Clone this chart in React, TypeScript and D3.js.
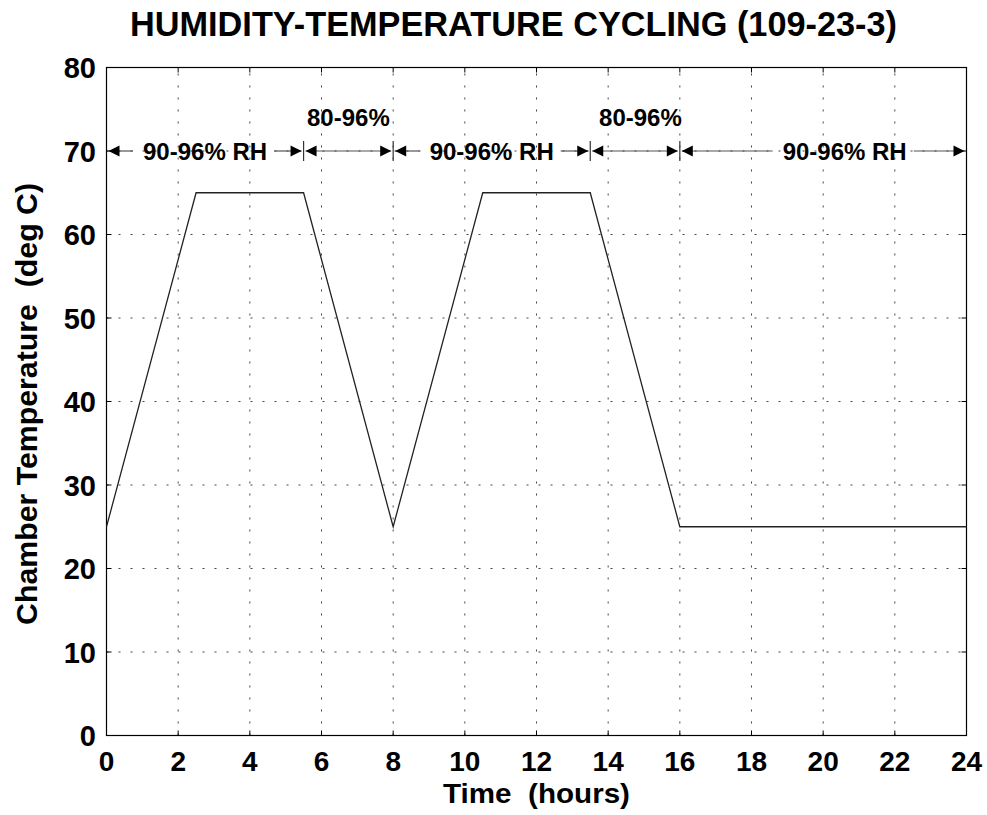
import React, { useEffect, useRef } from "react";
import * as d3 from "d3";

const timeHours = [0, 2.5, 5.5, 8, 10.5, 13.5, 16, 24];
const chamberTemp = [25, 65, 65, 25, 65, 65, 25, 25];
const xTickValues = [0, 2, 4, 6, 8, 10, 12, 14, 16, 18, 20, 22, 24];
const yTickValues = [0, 10, 20, 30, 40, 50, 60, 70, 80];

const rhStart = [0, 5.5, 8, 13.5, 16];
const rhEnd = [5.5, 8, 13.5, 16, 24];
const rhLabel = ["90-96% RH", "80-96%", "90-96% RH", "80-96%", "90-96% RH"];
const rhLabelAt = [2.75, 6.75, 10.75, 14.9, 20.6];
const rhAbove = [false, true, false, true, false];
const rhLevel = 70;

const titleText = "HUMIDITY-TEMPERATURE CYCLING (109-23-3)";
const xTitle = "Time  (hours)";
const yTitle = "Chamber Temperature  (deg C)";

export default function App() {
  const ref = useRef<SVGSVGElement>(null);
  useEffect(() => {
    const svg = d3.select(ref.current);
    svg.selectAll("*").remove();
    const L = 106.5, R = 966.5, T = 67.5, B = 735.5;
    const x = d3.scaleLinear().domain([0, 24]).range([L, R]);
    const y = d3.scaleLinear().domain([0, 80]).range([B, T]);
    const font = "'Liberation Sans', Arial, Helvetica, sans-serif";

    svg.append("rect").attr("width", 987).attr("height", 815).attr("fill", "#fff");

    // grid
    const g = svg.append("g");
    g.selectAll("line.vx").data(xTickValues.filter(v => v > 0 && v < 24)).join("line")
      .attr("x1", d => x(d)).attr("x2", d => x(d)).attr("y1", B).attr("y2", T)
      .attr("stroke", "#444").attr("stroke-width", 1).attr("stroke-dasharray", "2,10");
    g.selectAll("line.hy").data(yTickValues.filter(v => v > 0 && v < 80)).join("line")
      .attr("class", "hy")
      .attr("x1", L).attr("x2", R).attr("y1", d => y(d)).attr("y2", d => y(d))
      .attr("stroke", "#444").attr("stroke-width", 1).attr("stroke-dasharray", "2,10");

    // ticks inward
    const tk = 5;
    xTickValues.forEach(v => {
      g.append("line").attr("x1", x(v)).attr("x2", x(v)).attr("y1", B).attr("y2", B - tk).attr("stroke", "#000");
      g.append("line").attr("x1", x(v)).attr("x2", x(v)).attr("y1", T).attr("y2", T + tk).attr("stroke", "#000");
    });
    yTickValues.forEach(v => {
      g.append("line").attr("x1", L).attr("x2", L + tk).attr("y1", y(v)).attr("y2", y(v)).attr("stroke", "#000");
      g.append("line").attr("x1", R).attr("x2", R - tk).attr("y1", y(v)).attr("y2", y(v)).attr("stroke", "#000");
    });

    // frame
    svg.append("rect").attr("x", L).attr("y", T).attr("width", R - L).attr("height", B - T)
      .attr("fill", "none").attr("stroke", "#000").attr("stroke-width", 1.2);

    // data line
    const pts = timeHours.map((t, i) => [t, chamberTemp[i]] as [number, number]);
    svg.append("path").attr("d", d3.line<[number, number]>().x(d => x(d[0])).y(d => y(d[1]))(pts) as string)
      .attr("fill", "none").attr("stroke", "#222").attr("stroke-width", 1.3);

    // RH annotations
    const ay = y(rhLevel);
    const ah = svg.append("g");
    const head = (tipX: number, dir: number) => {
      ah.append("path")
        .attr("d", `M${tipX},${ay} L${tipX + dir * 11},${ay - 5.5} L${tipX + dir * 11},${ay + 5.5} Z`)
        .attr("fill", "#000");
    };
    rhStart.forEach((s, i) => {
      const x0 = x(s) + 2, x1 = x(rhEnd[i]) - 2;
      const txt = ah.append("text").attr("font-family", font).attr("font-weight", "bold")
        .attr("font-size", 24).attr("text-anchor", "middle").attr("fill", "#000")
        .attr("x", x(rhLabelAt[i]))
        .attr("y", rhAbove[i] ? ay - 25 : ay + 9)
        .text(rhLabel[i]);
      if (rhAbove[i]) {
        ah.append("line").attr("x1", x0).attr("x2", x1).attr("y1", ay).attr("y2", ay)
          .attr("stroke", "#555").attr("stroke-width", 1.2);
      } else {
        const bb = (txt.node() as SVGTextElement).getBBox();
        ah.append("line").attr("x1", x0).attr("x2", bb.x - 10).attr("y1", ay).attr("y2", ay)
          .attr("stroke", "#555").attr("stroke-width", 1.2);
        ah.append("line").attr("x1", bb.x + bb.width + 7).attr("x2", x1).attr("y1", ay).attr("y2", ay)
          .attr("stroke", "#555").attr("stroke-width", 1.2);
      }
      head(x0, 1);
      head(x1, -1);
    });
    rhStart.slice(1).forEach(s => {
      ah.append("line").attr("x1", x(s)).attr("x2", x(s)).attr("y1", ay - 10).attr("y2", ay + 10)
        .attr("stroke", "#333").attr("stroke-width", 1.2);
    });

    // tick labels
    svg.append("g").selectAll("text").data(xTickValues).join("text")
      .attr("x", d => x(d)).attr("y", 771).attr("text-anchor", "middle")
      .attr("font-family", font).attr("font-weight", "bold").attr("font-size", 28)
      .text(d => String(d));
    svg.append("g").selectAll("text").data(yTickValues).join("text")
      .attr("x", 96).attr("y", d => y(d) + 10.5).attr("text-anchor", "end")
      .attr("font-family", font).attr("font-weight", "bold").attr("font-size", 29)
      .text(d => String(d));

    // titles
    svg.append("text").attr("x", 513.5).attr("y", 36).attr("text-anchor", "middle")
      .attr("font-family", font).attr("font-weight", "bold").attr("font-size", 35)
      .attr("textLength", 767).attr("lengthAdjust", "spacingAndGlyphs")
      .style("white-space", "pre").text(titleText);
    svg.append("text").attr("x", 536.5).attr("y", 803).attr("text-anchor", "middle")
      .attr("font-family", font).attr("font-weight", "bold").attr("font-size", 27)
      .attr("textLength", 187).attr("lengthAdjust", "spacingAndGlyphs")
      .style("white-space", "pre").text(xTitle);
    svg.append("text").attr("transform", "translate(37,404) rotate(-90)").attr("text-anchor", "middle")
      .attr("font-family", font).attr("font-weight", "bold").attr("font-size", 29)
      .attr("textLength", 442).attr("lengthAdjust", "spacingAndGlyphs")
      .style("white-space", "pre").text(yTitle);
  }, []);
  return (
    <svg ref={ref} width={987} height={815}
      style={{ position: "absolute", left: 0, top: 0, display: "block" }} />
  );
}
